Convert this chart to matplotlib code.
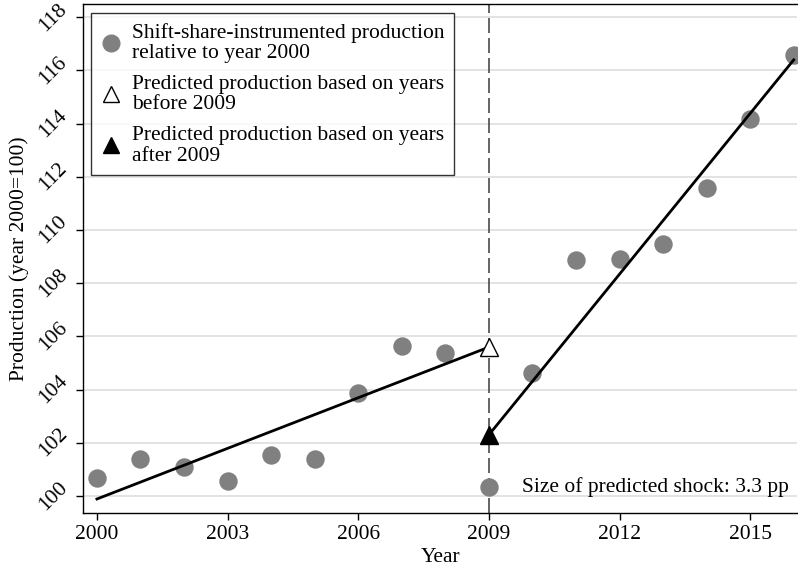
import matplotlib.pyplot as plt
from matplotlib.lines import Line2D

plt.rcParams['font.family'] = ['Liberation Serif', 'DejaVu Serif']

years = [2000, 2001, 2002, 2003, 2004, 2005, 2006, 2007, 2008,
         2009, 2010, 2011, 2012, 2013, 2014, 2015, 2016]
production = [100.68, 101.39, 101.09, 100.56, 101.54, 101.39, 103.87, 105.64, 105.38,
              100.34, 104.62, 108.87, 108.91, 109.47, 111.58, 114.17, 116.58]

# fitted lines before / after 2009
pre_x = [2000, 2009]
pre_y = [99.89, 105.6]
post_x = [2009, 2016]
post_y = [102.3, 116.4]

shock_text = 'Size of predicted shock: 3.3 pp'

fig = plt.figure(figsize=(7.98, 5.72), dpi=100)
ax = fig.add_axes([0.104, 0.103, 0.895, 0.890])

ax.set_xlim(1999.68, 2016.08)
ax.set_ylim(99.36, 118.5)
ax.set_yticks(range(100, 119, 2))
ax.set_xticks([2000, 2003, 2006, 2009, 2012, 2015])
ax.grid(axis='y', color='#e0e0e0', linewidth=1.3)
ax.set_axisbelow(True)

ax.axvline(2009, color='#4a4a4a', linewidth=1.2, dashes=(9, 3), zorder=1)

ax.scatter(years, production, s=150, color='#808080', zorder=3, clip_on=True)
ax.plot(pre_x, pre_y, color='black', linewidth=2, zorder=4)
ax.plot(post_x, post_y, color='black', linewidth=2, zorder=4)
ax.plot([pre_x[1]], [pre_y[1]], marker='^', markersize=12.5, markerfacecolor='white',
        markeredgecolor='black', markeredgewidth=1, zorder=5)
ax.plot([post_x[0]], [post_y[0]], marker='^', markersize=12.5, color='black', zorder=5)

ax.text(2015.88, 100.34, shock_text, fontsize=15.5, ha='right', va='center')

ax.set_xlabel('Year', fontsize=15.5, labelpad=3)
ax.set_ylabel('Production (year 2000=100)', fontsize=15.5, labelpad=4)
ax.tick_params(axis='both', labelsize=15.5, direction='out', length=5, width=1)
for lbl in ax.get_yticklabels():
    lbl.set_rotation(45)
    lbl.set_va('center')

for side in ['top', 'left', 'bottom']:
    ax.spines[side].set_linewidth(1)
ax.spines['right'].set_visible(False)

handles = [
    Line2D([], [], linestyle='none', marker='o', markersize=12, color='#808080'),
    Line2D([], [], linestyle='none', marker='^', markersize=12, markerfacecolor='white',
           markeredgecolor='black'),
    Line2D([], [], linestyle='none', marker='^', markersize=12, color='black'),
]
labels = ['Shift-share-instrumented production\nrelative to year 2000',
          'Predicted production based on years\nbefore 2009',
          'Predicted production based on years\nafter 2009']
leg = ax.legend(handles, labels, loc='upper left', fontsize=15.5, frameon=True,
                fancybox=False, edgecolor='black', handlelength=1, handletextpad=0.45,
                labelspacing=0.55, borderpad=0.45, bbox_to_anchor=(-0.004, 1.003))
leg.get_frame().set_linewidth(1)
for t in leg.get_texts():
    t.set_linespacing(1.1)

plt.savefig('out.png', dpi=100)
